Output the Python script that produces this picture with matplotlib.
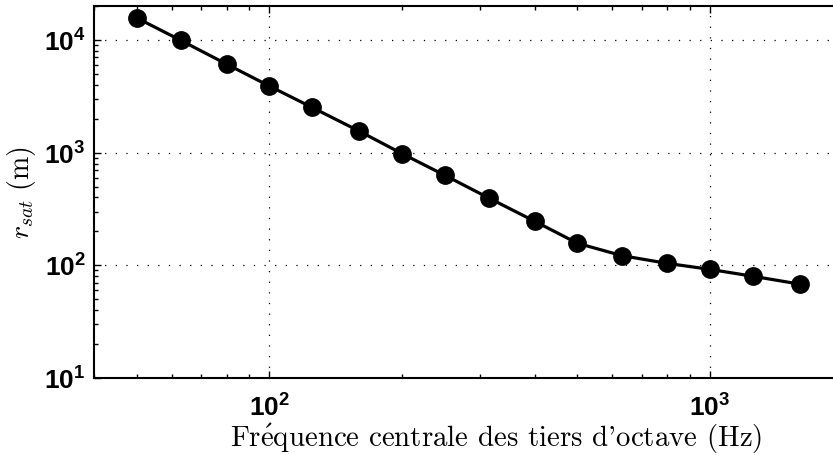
import numpy as np
import matplotlib
matplotlib.use('Agg')
import matplotlib.pyplot as plt
from matplotlib.ticker import LogLocator, FuncFormatter, NullFormatter

# third-octave centre frequencies and saturation distance
freq = [50, 63, 80, 100, 125, 160, 200, 250, 315, 400, 500, 630, 800, 1000, 1250, 1600]
r_sat = [15700, 9900, 6100, 3900, 2520, 1550, 980, 630, 395, 246, 157, 122, 104, 92, 80, 68]

plt.rcParams['mathtext.fontset'] = 'custom'
plt.rcParams['mathtext.bf'] = 'Liberation Sans:bold'
plt.rcParams['mathtext.rm'] = 'Liberation Sans'

fig = plt.figure(figsize=(8.33, 4.56), dpi=100)
# axes run past the right edge of the picture, as in the original
ax = fig.add_axes([0.1128, 0.1689, 0.9652, 0.8157])

ax.loglog(freq, r_sat, '-o', color='black', lw=2.3, markersize=12.5)

ax.set_xlim(40, 2670)
ax.set_ylim(10, 2e4)

ax.grid(True, which='major', linestyle=(0, (1, 7.5)), color='black', lw=0.9)
ax.xaxis.set_major_locator(LogLocator(base=10, numticks=10))
ax.yaxis.set_major_locator(LogLocator(base=10, numticks=10))
fmt = FuncFormatter(lambda v, p: r'$\mathbf{10^{%d}}$' % round(np.log10(v)))
ax.xaxis.set_major_formatter(fmt)
ax.yaxis.set_major_formatter(fmt)
ax.xaxis.set_minor_formatter(NullFormatter())
ax.yaxis.set_minor_formatter(NullFormatter())
ax.tick_params(which='both', direction='in', top=True, right=True, labelsize=19, width=1)
ax.tick_params(which='major', length=5)
ax.tick_params(which='minor', length=3)
ax.tick_params(axis='x', pad=12)
ax.tick_params(axis='y', pad=6)
for s in ax.spines.values():
    s.set_linewidth(1.5)

ax.set_xlabel(r"Fr$\mathrm{\acute{e}}$quence centrale des tiers d'octave (Hz)",
              family=['cmr10', 'DejaVu Serif'], math_fontfamily='cm',
              fontsize=20.8, labelpad=-1)
ax.set_ylabel(r'$r_{sat}\ (\mathrm{m})$', math_fontfamily='cm', fontsize=20, labelpad=4)

fig.savefig('out.png', dpi=100)
